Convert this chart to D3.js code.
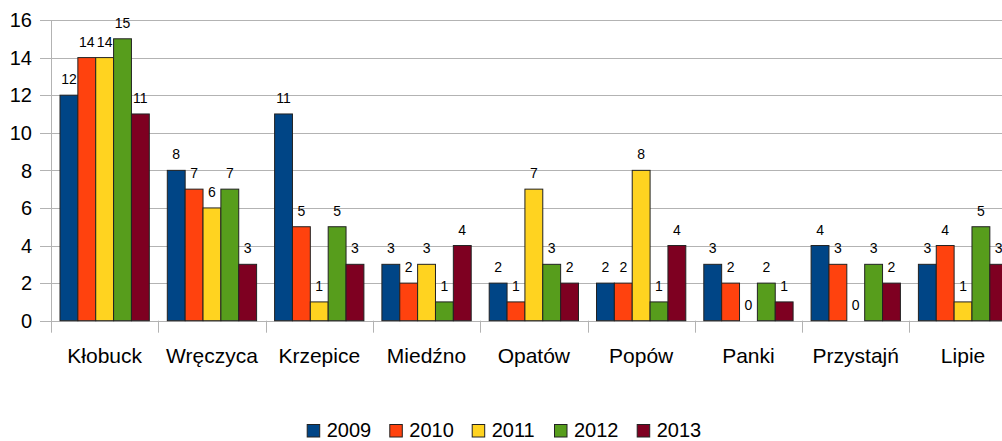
<!DOCTYPE html>
<html><head><meta charset="utf-8">
<script src="https://cdn.jsdelivr.net/npm/d3@7"></script>
<style>body{margin:0;background:#fff;overflow:hidden}svg{display:block}text{font-family:"Liberation Sans",Arial,sans-serif;fill:#000}</style>
</head><body><svg id="c" width="1002" height="441"></svg>
<script>
const categories = ["Kłobuck","Wręczyca","Krzepice","Miedźno","Opatów","Popów","Panki","Przystajń","Lipie"];
const years = ["2009","2010","2011","2012","2013"];
const colors = ["#004586","#ff420e","#ffd320","#579d1c","#7e0021"];
const v2009 = [12,8,11,3,2,2,3,4,3];
const v2010 = [14,7,5,2,1,2,2,3,4];
const v2011 = [14,6,1,3,7,8,0,0,1];
const v2012 = [15,7,5,1,3,1,2,3,5];
const v2013 = [11,3,3,4,2,4,1,2,3];
const series = [v2009,v2010,v2011,v2012,v2013];
const yTicks = [0,2,4,6,8,10,12,14,16];

(function(){
const svg = d3.select("#c");
const left = 51, bandW = 107.3, plotTop = 20, plotBottom = 320.7;
const x0 = d3.scaleBand().domain(categories).range([left, left + bandW*categories.length]).padding(0);
const x1 = d3.scaleBand().domain(years).range([9, bandW - 9]).padding(0);
const y = d3.scaleLinear().domain([0,16]).range([plotBottom, plotTop]);

svg.append("g").selectAll("line").data(yTicks).join("line")
  .attr("x1", left - 11).attr("x2", 1002)
  .attr("y1", d => Math.round(y(d)) + 0.5).attr("y2", d => Math.round(y(d)) + 0.5)
  .attr("stroke", "#b3b3b3").attr("stroke-width", 1);
svg.append("line").attr("x1", left+0.5).attr("x2", left+0.5).attr("y1", plotTop).attr("y2", plotBottom+12)
  .attr("stroke", "#b3b3b3");
svg.append("g").selectAll("line").data(categories.slice(1)).join("line")
  .attr("x1", d => Math.round(x0(d))+0.5).attr("x2", d => Math.round(x0(d))+0.5)
  .attr("y1", plotBottom).attr("y2", plotBottom+12).attr("stroke", "#b3b3b3");
svg.append("g").selectAll("text").data(yTicks).join("text")
  .attr("x", 32).attr("y", d => y(d)).attr("dy", "0.36em")
  .attr("text-anchor", "end").attr("font-size", 20).text(d => d);

const g = svg.append("g").selectAll("g").data(categories).join("g")
  .attr("transform", d => `translate(${x0(d)},0)`);
g.selectAll("rect").data((c,i) => years.map((yr,j) => ({yr, j, v: series[j][i]}))).join("rect")
  .attr("x", d => x1(d.yr)).attr("width", x1.bandwidth())
  .attr("y", d => y(d.v)).attr("height", d => y(0) - y(d.v))
  .attr("fill", d => colors[d.j]).attr("stroke", d => d.v ? "#222" : "none").attr("stroke-width", 1);
g.selectAll("text").data((c,i) => years.map((yr,j) => ({yr, j, v: series[j][i]}))).join("text")
  .attr("x", d => x1(d.yr) + x1.bandwidth()/2).attr("y", d => y(d.v) - 11)
  .attr("text-anchor", "middle").attr("font-size", 14).text(d => d.v);

svg.append("g").selectAll("text").data(categories).join("text")
  .attr("x", d => x0(d) + bandW/2).attr("y", 362.5)
  .attr("text-anchor", "middle").attr("font-size", 21).text(d => d);

const legendX = [306.7, 389.3, 471.7, 554, 636.7];
const lg = svg.append("g").selectAll("g").data(years).join("g")
  .attr("transform", (d,i) => `translate(${legendX[i]},0)`);
lg.append("rect").attr("x", 0.5).attr("y", 424.5).attr("width", 12.5).attr("height", 12.5)
  .attr("fill", (d,i) => colors[i]).attr("stroke", "#222");
lg.append("text").attr("x", 20).attr("y", 437).attr("font-size", 20).text(d => d);
})();
</script></body></html>
